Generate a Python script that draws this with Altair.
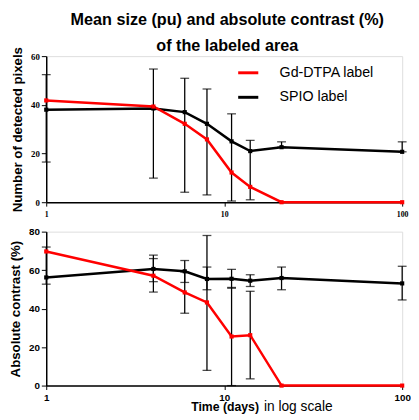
import altair as alt
import pandas as pd

days = [1, 4, 6, 8, 11, 14, 21, 100]
series_names = ["Gd-DTPA label", "SPIO  label"]
series_colors = ["#ff0000", "#000000"]

# Top panel: number of detected pixels
gd_size = [41.8, 39.3, 32.2, 25.8, 12.2, 6.3, 0, 0]
spio_size = [38, 38.5, 37, 32.2, 25, 21, 22.6, 20.7]
size_err_low = [16.5, 9.9, 4.1, 3.0, 0.5, 1.0, 22.6, 20.7]
size_err_high = [52.4, 54.7, 50.9, 46.5, 36.3, 25.4, 24.8, 24.8]

# Bottom panel: absolute contrast (%)
gd_contrast = [69.7, 57.1, 48.4, 43.2, 25.5, 26.2, 0, 0]
spio_contrast = [56.2, 60.6, 59.4, 55.4, 55.5, 54.5, 55.9, 53.1]
spio_con_low = [52.7, 54.0, 53.6, 49.8, 50.6, 51.5, 49.8, 44.5]
spio_con_high = [72.0, 67.8, 65.0, 61.6, 60.4, 57.6, 61.6, 62.0]
gd_con_low = [None, 48.6, 37.6, 7.9, 0.0, 3.5, None, None]
gd_con_high = [None, 66.0, 59.0, 78.0, 51.0, 49.0, None, None]

size_df = pd.DataFrame(
    {"day": days * 2,
     "value": spio_size + gd_size,
     "series": [series_names[1]] * len(days) + [series_names[0]] * len(days)})
size_err = pd.DataFrame({"day": days, "low": size_err_low, "high": size_err_high})

con_df = pd.DataFrame(
    {"day": days * 2,
     "value": spio_contrast + gd_contrast,
     "series": [series_names[1]] * len(days) + [series_names[0]] * len(days)})
con_err = pd.DataFrame(
    {"day": days * 2,
     "low": spio_con_low + gd_con_low,
     "high": spio_con_high + gd_con_high}).dropna()

color_scale = alt.Scale(domain=series_names, range=series_colors)
W = 363


def panel(df, err, ymax, ystep, ytitle, lab_font, lab_size, xlab_font, xlab_size,
          xpad, height, legend):
    x_axis = alt.Axis(values=[1, 10, 100], title=None, grid=False,
                      labelFont=xlab_font, labelFontWeight="bold",
                      labelFontSize=xlab_size, labelColor="#000",
                      domainColor="#000", domainWidth=1.5,
                      tickColor="#000", tickSize=4, labelPadding=xpad,
                      labelFlush=False, labelOverlap=False)
    y_axis = alt.Axis(values=list(range(0, ymax + 1, ystep)), title=ytitle, grid=False,
                      labelFont=lab_font, labelFontWeight="bold", labelFontSize=lab_size,
                      labelColor="#000", domainColor="#000", domainWidth=1.5,
                      tickColor="#000", tickSize=5, labelOverlap=False,
                      titleFont="Liberation Sans", titleFontWeight="bold",
                      titleFontSize=13.5, titleColor="#000", titlePadding=6)
    yscale = alt.Scale(domain=[0, ymax], nice=False)
    xscale = alt.Scale(type="log", domain=[1, 100])
    X = alt.X("day:Q", scale=xscale, axis=x_axis)
    rules = alt.Chart(err).mark_rule(color="#000", strokeWidth=1.3).encode(
        x=X, y=alt.Y("low:Q", scale=yscale, axis=y_axis), y2="high:Q")
    cap_lo = alt.Chart(err).mark_tick(color="#000", orient="horizontal", size=9,
                                      thickness=1.3).encode(
        x=X, y=alt.Y("low:Q", scale=yscale, axis=y_axis))
    cap_hi = alt.Chart(err).mark_tick(color="#000", orient="horizontal", size=9,
                                      thickness=1.3).encode(
        x=X, y=alt.Y("high:Q", scale=yscale, axis=y_axis))
    lines = alt.Chart(df).mark_line(
        strokeWidth=2.5,
        point=alt.OverlayMarkDef(shape="square", size=18, filled=True)).encode(
        x=X,
        y=alt.Y("value:Q", scale=yscale, axis=y_axis),
        color=alt.Color("series:N", scale=color_scale, legend=legend),
        order=alt.Order("day:Q"),
        detail="series:N")
    return alt.layer(rules, cap_lo, cap_hi, lines).properties(width=W, height=height)


legend = alt.Legend(title=None, orient="none", legendX=194, legendY=5,
                    symbolType="stroke", symbolStrokeWidth=3, symbolSize=420,
                    labelFont="Liberation Sans", labelFontSize=14.5, labelColor="#000",
                    labelFontWeight="normal", rowPadding=6, labelOffset=20)

top = panel(size_df, size_err, 60, 20, "Number of detected pixels",
            "Liberation Serif", 9, "Liberation Serif", 8, 5, 149, legend)
bottom = panel(con_df, con_err, 80, 20, "Absolute contrast (%)",
               "Liberation Sans", 10, "Liberation Sans", 10, 3, 157, None)

xtitle = alt.Chart(pd.DataFrame({"t": ["Time (days)"]})).mark_text(
    font="Liberation Sans", fontWeight="bold", fontSize=12.5, align="right",
    baseline="alphabetic", color="#000").encode(
    text="t:N", x=alt.value(217), y=alt.value(183))
xtitle2 = alt.Chart(pd.DataFrame({"t": ["in log scale"]})).mark_text(
    font="Liberation Sans", fontWeight="normal", fontSize=14, align="left",
    baseline="alphabetic", color="#000").encode(
    text="t:N", x=alt.value(222), y=alt.value(183))
bottom = alt.layer(bottom, xtitle, xtitle2)

chart = alt.vconcat(top, bottom, spacing=6).properties(
    title=alt.TitleParams(["Mean size (pu) and absolute contrast (%)", "of  the labeled area"],
                          font="Liberation Sans", fontWeight="bold", fontSize=16.5,
                          color="#000", anchor="middle", dx=18, lineHeight=27,
                          offset=-9)
).configure_view(stroke=None).configure(background="#ffffff", padding=0)

chart.save("out.html", embed_options={"renderer": "svg", "actions": False})
